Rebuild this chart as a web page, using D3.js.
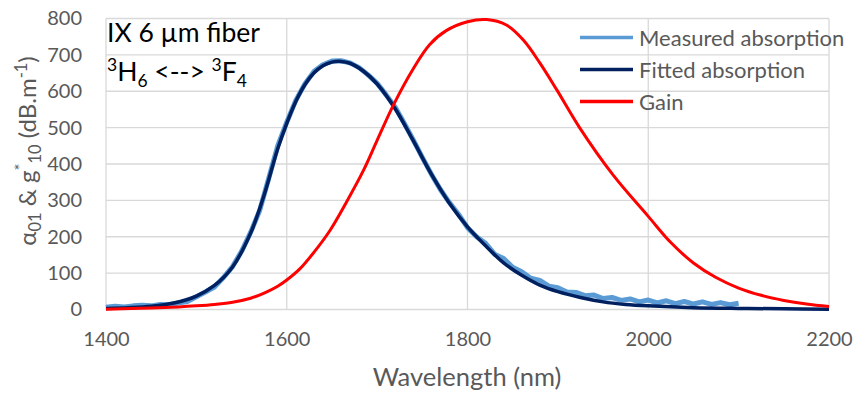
<!DOCTYPE html>
<html>
<head>
<meta charset="utf-8">
<script src="https://cdn.jsdelivr.net/npm/d3@7"></script>
<style>
  body { margin: 0; background: #fff; }
  text { font-family: Lato, "Noto Sans", sans-serif; }
</style>
</head>
<body>
<script>
// tick labels
var xTicks = [1400, 1600, 1800, 2000, 2200];
var yTicks = [0, 100, 200, 300, 400, 500, 600, 700, 800];

// measured absorption (nm, dB/m), every 10 nm
var measWl = d3.range(1400, 2101, 10);
var measVal = [6, 9, 7, 10, 12, 10, 14, 13, 18, 22,
  35, 48, 62, 88, 118, 160, 212, 272, 360, 450,
  515, 575, 620, 654, 673, 683, 684, 678, 665, 645,
  622, 590, 556, 512, 466, 418, 372, 330, 294, 262,
  225, 200, 182, 152, 140, 116, 104, 86, 80, 64,
  60, 48, 47, 38, 40, 30, 33, 25, 29, 21,
  26, 18, 24, 16, 22, 15, 21, 14, 19, 13, 17];

// fitted absorption
var fitWl = [1400, 1425, 1450, 1475, 1500, 1520, 1540, 1560, 1575, 1590, 1600, 1610, 1620, 1630, 1640, 1650,
  1660, 1670, 1685, 1700, 1720, 1740, 1760, 1780, 1800, 1820, 1840, 1860, 1880, 1900, 1925, 1950,
  1975, 2000, 2050, 2100, 2150, 2200];
var fitVal = [3, 5, 9, 18, 37, 66, 117, 210, 315, 442, 512, 572, 618, 650, 670, 680,
  682, 677, 655, 620, 552, 464, 372, 292, 227, 175, 128, 94, 67, 49, 33, 21,
  14, 10, 5, 3, 2, 1];

// gain
var gainWl = [1400, 1450, 1480, 1500, 1520, 1540, 1560, 1575, 1590, 1600, 1615, 1630, 1648, 1666, 1685, 1700,
  1718, 1740, 1758, 1776, 1800, 1821, 1843, 1862, 1880, 1899, 1924, 1961, 2000, 2025, 2050, 2075,
  2100, 2125, 2150, 2175, 2200];
var gainVal = [1, 4, 7, 10, 14, 20, 31, 45, 64, 81, 113, 157, 218, 295, 383, 465,
  562, 662, 728, 766, 791, 797, 782, 740, 678, 603, 500, 370, 256, 184, 128, 88,
  59, 39, 25, 15, 8];

var seriesNames = ["Measured absorption", "Fitted absorption", "Gain"];
var seriesColors = ["#5b9bd5", "#002060", "#ff0000"];

var w = 855, h = 393;
// plot box (note: "top" is a reserved window name, so use pTop etc.)
var pLeft = 106, pRight = 829, pTop = 18.5, pBottom = 309.5;

var svg = d3.select("body").append("svg")
  .attr("width", w)
  .attr("height", h);

var x = d3.scaleLinear().domain([1400, 2200]).range([pLeft, pRight]);
var y = d3.scaleLinear().domain([0, 800]).range([pBottom, pTop]);

// grid
svg.append("g").selectAll("line")
  .data(yTicks).enter().append("line")
  .attr("x1", pLeft).attr("x2", pRight)
  .attr("y1", function(d) { return y(d); })
  .attr("y2", function(d) { return y(d); })
  .attr("stroke", "#d9d9d9").attr("stroke-width", 1.3);
svg.append("g").selectAll("line")
  .data(xTicks).enter().append("line")
  .attr("y1", pTop).attr("y2", pBottom)
  .attr("x1", function(d) { return x(d); })
  .attr("x2", function(d) { return x(d); })
  .attr("stroke", "#d9d9d9").attr("stroke-width", 1.3);

// axes (labels only)
var xAxis = svg.append("g")
  .attr("transform", "translate(0," + pBottom + ")")
  .call(d3.axisBottom(x).tickValues(xTicks).tickSize(0).tickFormat(d3.format("d")));
xAxis.selectAll("text").attr("dy", null).attr("y", 36.5);
var yAxis = svg.append("g")
  .attr("transform", "translate(" + pLeft + ",0)")
  .call(d3.axisLeft(y).tickValues(yTicks).tickSize(0).tickPadding(24));
[xAxis, yAxis].forEach(function(a) {
  a.select(".domain").remove();
  a.selectAll("text").attr("font-size", 20).attr("fill", "#595959")
    .attr("font-family", "Lato, 'Noto Sans', sans-serif");
});

// lines
function mkLine(wl) {
  return d3.line()
    .x(function(d, i) { return x(wl[i]); })
    .y(function(d) { return y(d); });
}
svg.append("path").datum(measVal)
  .attr("d", mkLine(measWl))
  .attr("fill", "none").attr("stroke", seriesColors[0]).attr("stroke-width", 5)
  .attr("stroke-linejoin", "round");
svg.append("path").datum(fitVal)
  .attr("d", mkLine(fitWl).curve(d3.curveCatmullRom.alpha(0.5)))
  .attr("fill", "none").attr("stroke", seriesColors[1]).attr("stroke-width", 3.5);
svg.append("path").datum(gainVal)
  .attr("d", mkLine(gainWl).curve(d3.curveCatmullRom.alpha(0.5)))
  .attr("fill", "none").attr("stroke", seriesColors[2]).attr("stroke-width", 3);

// legend
var legend = svg.append("g");
seriesNames.forEach(function(name, i) {
  var ly = 37.5 + i * 32;
  legend.append("line")
    .attr("x1", 580).attr("x2", 633).attr("y1", ly).attr("y2", ly)
    .attr("stroke", seriesColors[i]).attr("stroke-width", 3.5);
  legend.append("text")
    .attr("x", 639).attr("y", ly + 8)
    .attr("font-size", 22).attr("fill", "#595959")
    .text(name);
});

// annotation
svg.append("text").attr("x", 107).attr("y", 42)
  .attr("font-size", 26.5).attr("fill", "#000")
  .text("IX 6 \u00b5m fiber");
var t2 = svg.append("text").attr("x", 107).attr("y", 81)
  .attr("font-size", 26.5).attr("fill", "#000");
t2.append("tspan").attr("font-size", 17.5).attr("dy", -10).text("3");
t2.append("tspan").attr("dy", 10).text("H");
t2.append("tspan").attr("font-size", 17.5).attr("dy", 6).text("6");
t2.append("tspan").attr("dy", -6).text(" <--> ");
t2.append("tspan").attr("font-size", 17.5).attr("dy", -10).text("3");
t2.append("tspan").attr("dy", 10).text("F");
t2.append("tspan").attr("font-size", 17.5).attr("dy", 6).text("4");

// axis titles
svg.append("text")
  .attr("x", 467).attr("y", 386)
  .attr("text-anchor", "middle")
  .attr("font-size", 25.5).attr("fill", "#595959")
  .text("Wavelength (nm)");

var yt = svg.append("text")
  .attr("transform", "translate(36,151) rotate(-90)")
  .attr("text-anchor", "middle")
  .attr("font-size", 24).attr("fill", "#595959");
yt.append("tspan").text("\u03b1");
yt.append("tspan").attr("font-size", 16.5).attr("dy", 5).text("01");
yt.append("tspan").attr("dy", -5).text(" & g");
yt.append("tspan").attr("font-size", 16.5).attr("dy", -9).text("*");
yt.append("tspan").attr("font-size", 16.5).attr("dy", 14).text("10");
yt.append("tspan").attr("dy", -5).text(" (dB.m");
yt.append("tspan").attr("font-size", 16.5).attr("dy", -9).text("-1");
yt.append("tspan").attr("dy", 9).text(")");
</script>
</body>
</html>
